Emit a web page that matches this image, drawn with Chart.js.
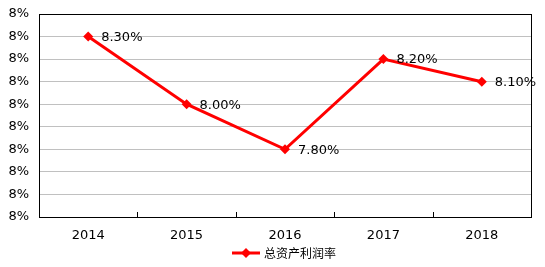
<!DOCTYPE html>
<html>
<head>
<meta charset="utf-8">
<script src="https://cdn.jsdelivr.net/npm/chart.js@4"></script>
<style>
    html, body { margin: 0; padding: 0; background: #fff; }
    #wrap { width: 545px; height: 267px; }
</style>
</head>
<body>
<div id="wrap"><canvas id="rateChart" width="545" height="267"></canvas></div>
<script>
// Chart data
const years = ['2014', '2015', '2016', '2017', '2018'];
const rates = [8.30, 8.00, 7.80, 8.20, 8.10];
const seriesName = '总资产利润率';
const yTicks = [7.5, 7.6, 7.7, 7.8, 7.9, 8.0, 8.1, 8.2, 8.3, 8.4];
const yTickLabels = ['8%', '8%', '8%', '8%', '8%', '8%', '8%', '8%', '8%', '8%'];

const lineRed = '#ff0000';
const fontFamily = 'DejaVu Sans, Verdana, sans-serif';

// Value labels to the right of each point
const valueLabels = {
    id: 'valueLabels',
    afterDatasetsDraw(chart) {
        const ctx = chart.ctx;
        const meta = chart.getDatasetMeta(0);
        ctx.save();
        ctx.font = '13px ' + fontFamily;
        ctx.fillStyle = '#000';
        ctx.textAlign = 'left';
        ctx.textBaseline = 'middle';
        meta.data.forEach((pt, i) => {
            ctx.fillText(rates[i].toFixed(2) + '%', pt.x + 13, pt.y + 1);
        });
        ctx.restore();
    }
};

// Black frame around the plot area, plus short inward ticks between years
const plotFrame = {
    id: 'plotFrame',
    afterDraw(chart) {
        const a = chart.chartArea;
        const ctx = chart.ctx;
        const xs = chart.scales.x;
        ctx.save();
        ctx.strokeStyle = '#000';
        ctx.lineWidth = 1;
        ctx.strokeRect(Math.round(a.left) + 0.5, Math.round(a.top) + 0.5,
            Math.round(a.right - a.left), Math.round(a.bottom - a.top));
        ctx.beginPath();
        for (let i = 1; i < years.length; i++) {
            const x = Math.round((xs.getPixelForValue(i - 1) + xs.getPixelForValue(i)) / 2) + 0.5;
            ctx.moveTo(x, a.bottom);
            ctx.lineTo(x, a.bottom - 5);
        }
        ctx.stroke();
        ctx.restore();
    }
};

// Legend: red line with a diamond, then the series name
const bottomLegend = {
    id: 'bottomLegend',
    afterDraw(chart) {
        const ctx = chart.ctx;
        const y = 253;
        ctx.save();
        ctx.font = '12px "Noto Sans CJK SC", sans-serif';
        const textW = ctx.measureText(seriesName).width;
        const total = 28 + 4 + textW;
        const x0 = Math.round(chart.width / 2 - total / 2) + 12;
        ctx.strokeStyle = lineRed;
        ctx.lineWidth = 3;
        ctx.beginPath();
        ctx.moveTo(x0, y);
        ctx.lineTo(x0 + 28, y);
        ctx.stroke();
        ctx.fillStyle = lineRed;
        ctx.beginPath();
        ctx.moveTo(x0 + 14, y - 5);
        ctx.lineTo(x0 + 19, y);
        ctx.lineTo(x0 + 14, y + 5);
        ctx.lineTo(x0 + 9, y);
        ctx.closePath();
        ctx.fill();
        ctx.fillStyle = '#000';
        ctx.textBaseline = 'middle';
        ctx.fillText(seriesName, x0 + 32, y);
        ctx.restore();
    }
};

new Chart(document.getElementById('rateChart'), {
    type: 'line',
    data: {
        labels: years,
        datasets: [{
            label: seriesName,
            data: rates,
            borderColor: lineRed,
            backgroundColor: lineRed,
            borderWidth: 3,
            pointStyle: 'rectRot',
            pointRadius: 5,
            pointBackgroundColor: lineRed,
            pointBorderWidth: 0,
            tension: 0,
            fill: false
        }]
    },
    options: {
        responsive: false,
        animation: false,
        layout: {
            padding: { left: 0, top: 14, right: 14, bottom: 24 }
        },
        plugins: {
            legend: { display: false },
            tooltip: { enabled: false }
        },
        scales: {
            x: {
                offset: true,
                grid: {
                    drawOnChartArea: false,
                    drawTicks: false
                },
                border: { color: '#000' },
                ticks: {
                    color: '#000',
                    font: { family: fontFamily, size: 13 },
                    padding: 11
                },
                afterFit(scale) {
                    scale.height = 26;
                    scale.paddingLeft = 0;
                    scale.paddingRight = 0;
                }
            },
            y: {
                min: 7.5,
                max: 8.4,
                afterBuildTicks(scale) {
                    scale.ticks = yTicks.map(v => ({ value: v }));
                },
                grid: {
                    color: '#c0c0c0',
                    drawTicks: false
                },
                border: { color: '#000' },
                ticks: {
                    color: '#000',
                    font: { family: fontFamily, size: 13 },
                    padding: 10,
                    callback: function (value, index) {
                        return yTickLabels[index];
                    }
                },
                afterFit(scale) {
                    scale.width = 39;
                    scale.paddingTop = 0;
                    scale.paddingBottom = 0;
                }
            }
        }
    },
    plugins: [valueLabels, plotFrame, bottomLegend]
});
</script>
</body>
</html>
